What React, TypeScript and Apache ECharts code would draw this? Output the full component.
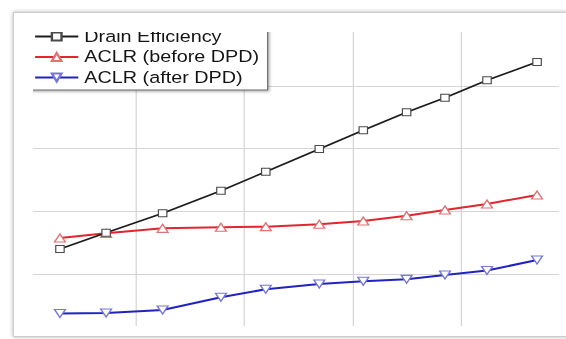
import React, { useEffect, useRef } from "react";
import * as echarts from "echarts";

// Output power (dBm) of each measured point
const outputPower = [6.49, 8.62, 11.23, 13.92, 15.99, 18.46, 20.49, 22.49, 24.26, 26.2, 28.51];
// Drain efficiency (%)
const drainEfficiency = [3.99, 6.59, 9.69, 13.29, 16.32, 19.95, 22.93, 25.8, 28.13, 30.91, 33.83];
// ACLR (dBc) before and after digital predistortion
const aclrBeforeDpd = [-44.26, -43.51, -42.71, -42.55, -42.45, -42.07, -41.54, -40.7, -39.79, -38.83, -37.39];
const aclrAfterDpd = [-56.3, -56.22, -55.74, -53.72, -52.44, -51.6, -51.16, -50.85, -50.16, -49.45, -47.77];

const seriesNames = ["Drain Efficiency", "ACLR (before DPD)", "ACLR (after DPD)"];

// Axis ranges: [min, max, step]
const powerRange = [5, 30, 5];
const efficiencyRange = [-10, 40, 10];
const aclrRange = [-60, -10, 10];

// The figure is shown horizontally stretched inside a framed crop window
const STRETCH = 1.2;
const CROP = { left: 33, top: 32, width: 526, height: 294 };

const pairs = (ys: number[]) => ys.map((y, i) => [outputPower[i], y]);

export default function App() {
  const ref = useRef<HTMLDivElement>(null);

  useEffect(() => {
    if (!ref.current) return;
    const chart = echarts.init(ref.current, null, { renderer: "svg" });
    const hiddenAxis = {
      axisLine: { show: false },
      axisTick: { show: false },
      axisLabel: { show: false },
    };
    chart.setOption({
      animation: false,
      backgroundColor: "transparent",
      grid: { left: 23.06, top: 23.33, width: 451.39, height: 313.33, containLabel: false },
      xAxis: {
        type: "value",
        min: powerRange[0],
        max: powerRange[1],
        interval: powerRange[2],
        ...hiddenAxis,
        splitLine: { show: true, lineStyle: { color: "#d4d4d4", width: 1 } },
      },
      yAxis: [
        {
          type: "value",
          min: efficiencyRange[0],
          max: efficiencyRange[1],
          interval: efficiencyRange[2],
          ...hiddenAxis,
          splitLine: { show: true, lineStyle: { color: "#d4d4d4", width: 1 } },
        },
        {
          type: "value",
          min: aclrRange[0],
          max: aclrRange[1],
          interval: aclrRange[2],
          ...hiddenAxis,
          splitLine: { show: false },
        },
      ],
      legend: {
        orient: "vertical",
        left: 23.25,
        top: 22,
        padding: [5, 7, 3, 5],
        itemWidth: 36,
        itemHeight: 10,
        itemGap: 1.5,
        selectedMode: false,
        backgroundColor: "#ffffff",
        borderColor: "#6a6a6a",
        borderWidth: 1,
        shadowColor: "rgba(0,0,0,0.35)",
        shadowBlur: 3,
        shadowOffsetX: 1,
        shadowOffsetY: 1,
        textStyle: {
          fontFamily: "'Liberation Sans', Arial, sans-serif",
          fontSize: 16.5,
          lineHeight: 19,
          color: "#141414",
        },
        data: seriesNames,
      },
      series: [
        {
          name: seriesNames[0],
          type: "line",
          yAxisIndex: 0,
          data: pairs(drainEfficiency),
          symbol: "rect",
          symbolSize: 7,
          showAllSymbol: true,
          lineStyle: { color: "#1c1c1c", width: 1.6 },
          itemStyle: { color: "#ffffff", borderColor: "#4a4a4a", borderWidth: 1 },
          z: 3,
        },
        {
          name: seriesNames[1],
          type: "line",
          yAxisIndex: 1,
          data: pairs(aclrBeforeDpd),
          symbol: "triangle",
          symbolSize: [9, 8],
          showAllSymbol: true,
          lineStyle: { color: "#e0262e", width: 2 },
          itemStyle: { color: "#ffffff", borderColor: "#e07272", borderWidth: 1.2 },
          z: 2,
        },
        {
          name: seriesNames[2],
          type: "line",
          yAxisIndex: 1,
          data: pairs(aclrAfterDpd),
          symbol: "triangle",
          symbolRotate: 180,
          symbolSize: [9, 8],
          showAllSymbol: true,
          lineStyle: { color: "#2222c2", width: 2 },
          itemStyle: { color: "#ffffff", borderColor: "#7676d6", borderWidth: 1.2 },
          z: 2,
        },
      ],
    });
    return () => chart.dispose();
  }, []);

  return (
    <div
      style={{
        position: "fixed",
        left: 0,
        top: 0,
        width: 566,
        height: 339,
        overflow: "hidden",
        background: "#ffffff",
      }}
    >
      <div
        style={{
          position: "absolute",
          left: 13,
          top: 12,
          width: 620,
          height: 323,
          border: "1px solid #cdcdcd",
          boxShadow: "0 0 4px rgba(0,0,0,0.3)",
          background: "#ffffff",
        }}
      />
      <div
        style={{
          position: "absolute",
          left: CROP.left,
          top: CROP.top,
          width: CROP.width,
          height: CROP.height,
          overflow: "hidden",
        }}
      >
        <div
          ref={ref}
          style={{
            position: "absolute",
            left: -CROP.left,
            top: -CROP.top,
            width: 500,
            height: 339,
            transform: `scaleX(${STRETCH})`,
            transformOrigin: "0 0",
          }}
        />
      </div>
    </div>
  );
}
